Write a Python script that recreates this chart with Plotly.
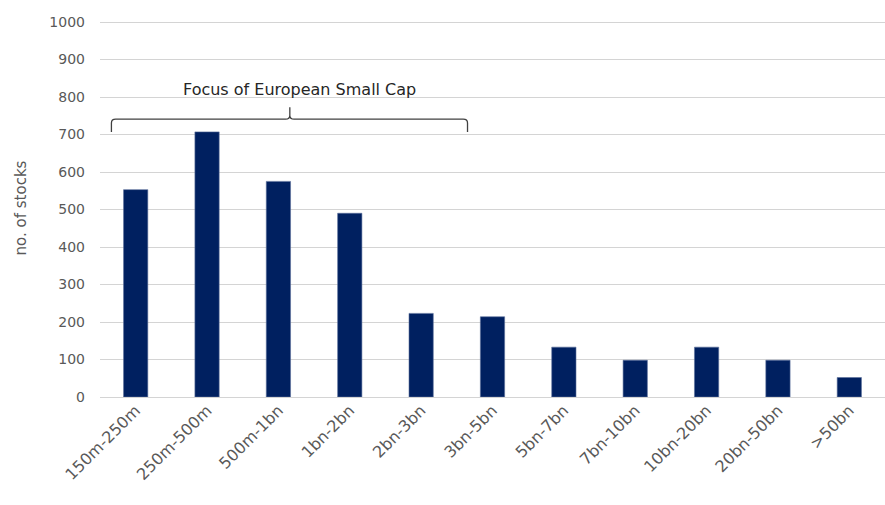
import plotly.graph_objects as go

categories = ["150m-250m", "250m-500m", "500m-1bn", "1bn-2bn", "2bn-3bn", "3bn-5bn",
              "5bn-7bn", "7bn-10bn", "10bn-20bn", "20bn-50bn", ">50bn"]
stocks = [553, 707, 575, 490, 223, 214, 133, 98, 133, 98, 52]
y_ticks = [0, 100, 200, 300, 400, 500, 600, 700, 800, 900, 1000]

bracket_label = "Focus of European Small Cap"
bracket_x0, bracket_x1, bracket_xm = -0.34, 4.65, 2.16
bracket_y_end, bracket_y_line, bracket_y_tip = 707, 741, 773

idx = list(range(len(categories)))

fig = go.Figure()
fig.add_trace(go.Bar(
    x=idx, y=stocks,
    marker=dict(color="#002060", line=dict(color="#5a6f9a", width=0.6)),
    width=0.34,
))

font_family = "DejaVu Sans"
tick_color = "#595959"

# bracket path (data coordinates)
rx, ry = 0.06, 10
x0, x1, xm = bracket_x0, bracket_x1, bracket_xm
ye, yl, yt = bracket_y_end, bracket_y_line, bracket_y_tip
path = (f"M {x0},{ye} L {x0},{yl-ry} Q {x0},{yl} {x0+rx},{yl} "
        f"L {xm-rx},{yl} Q {xm},{yl} {xm},{yl+ry} L {xm},{yt} "
        f"M {xm},{yl+ry} Q {xm},{yl} {xm+rx},{yl} "
        f"L {x1-rx},{yl} Q {x1},{yl} {x1},{yl-ry} L {x1},{ye}")
fig.add_shape(type="path", path=path, xref="x", yref="y",
              line=dict(color="#404040", width=1.3))
fig.add_annotation(x=2.3, y=819, xref="x", yref="y", text=bracket_label,
                   showarrow=False, font=dict(family=font_family, size=16, color="#262626"))

fig.update_layout(
    width=885, height=505,
    margin=dict(l=100, r=0, t=19, b=108),
    paper_bgcolor="white", plot_bgcolor="white",
    showlegend=False,
    font=dict(family=font_family, color=tick_color, size=14),
    xaxis=dict(
        range=[-0.5, 10.5], tickmode="array", tickvals=idx, ticktext=categories,
        tickangle=-45, showgrid=False, zeroline=False, showline=False,
        tickfont=dict(size=16, color=tick_color), ticks="", automargin=False,
    ),
    yaxis=dict(
        range=[0, 1008], tickmode="array", tickvals=y_ticks,
        showgrid=True, gridcolor="#d4d4d4", gridwidth=1.4,
        zeroline=True, zerolinecolor="#d4d4d4", zerolinewidth=1.4,
        tickfont=dict(size=14, color=tick_color), ticklabelstandoff=14,
        automargin=False,
        title=dict(text="no. of stocks", font=dict(size=15, color=tick_color), standoff=19),
    ),
)

fig.write_html("out.html", config={"displayModeBar": False},
               post_script="document.body.style.margin='0';document.body.style.overflow='hidden';")
